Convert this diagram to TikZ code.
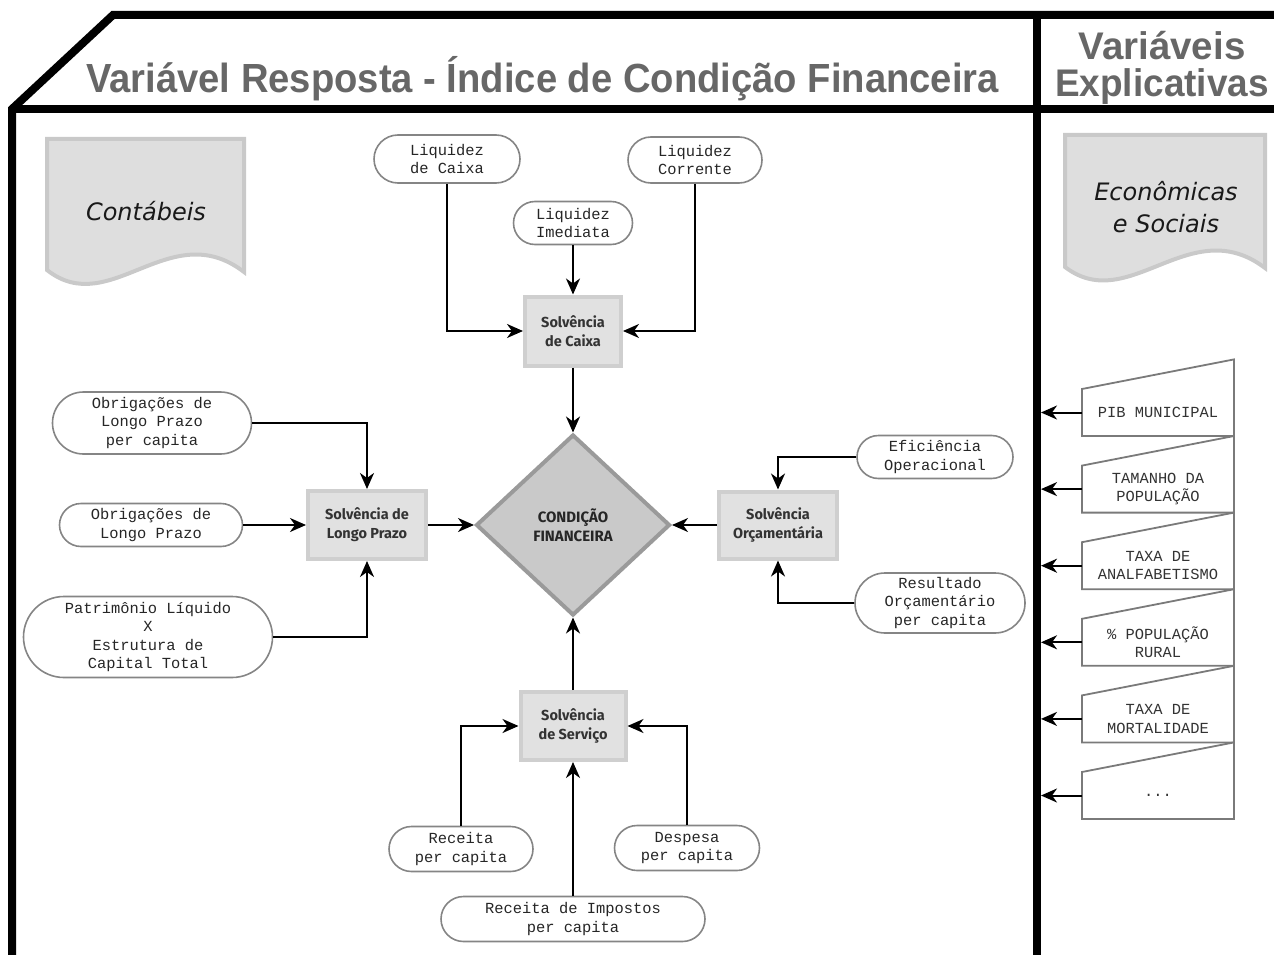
\documentclass[tikz,border=0pt]{standalone}
\usepackage{fontspec}
\usetikzlibrary{shapes.misc,shapes.geometric,arrows.meta}
\newfontfamily\titlef{Liberation Sans}
\newfontfamily\monof{Liberation Mono}
\newfontfamily\boxf{Fira Sans}
\newfontfamily\docf{DejaVu Sans}
\definecolor{titlegray}{HTML}{676767}
\definecolor{termgray}{HTML}{858585}
\definecolor{solvfill}{HTML}{E1E1E1}
\definecolor{solvborder}{HTML}{CFCFCF}
\definecolor{diafill}{HTML}{C9C9C9}
\definecolor{diaborder}{HTML}{9A9A9A}
\definecolor{docfill}{HTML}{DEDEDE}
\definecolor{docborder}{HTML}{C9C9C9}
\definecolor{maningray}{HTML}{7A7A7A}
\begin{document}
\begin{tikzpicture}[x=1pt,y=-1pt,
  arr/.style={draw=black, line width=2pt, -{Stealth[length=16pt,width=14pt,inset=5pt]}},
  term/.style={rounded rectangle, draw=termgray, line width=1.6pt, fill=white, inner sep=0pt, align=center,
    font=\monof\fontsize{15.4}{18.5}\selectfont, text=black!85},
  solv/.style={rectangle, draw=solvborder, fill=solvfill, line width=4pt, inner sep=0pt, align=center,
    font=\boxf\bfseries\fontsize{14.5}{19}\selectfont, text=black!80},
  cond/.style={diamond, draw=diaborder, fill=diafill, line width=4pt, inner sep=0pt, align=center,
    minimum width=194pt, minimum height=181pt, font=\boxf\bfseries\fontsize{15}{19}\selectfont, text=black!85},
  docshape/.style={draw=docborder, fill=docfill, line width=4pt},
  doctext/.style={font=\docf\itshape\fontsize{24}{32}\selectfont, align=center, text=black!90},
  manin/.style={draw=maningray, fill=white, line width=1.8pt, line join=miter},
  mantext/.style={font=\monof\fontsize{15.4}{18.5}\selectfont, align=center, text=black!80},
  frame/.style={line width=8pt, draw=black, line join=miter},
  ttl/.style={font=\titlef\bfseries\fontsize{40.7}{40.7}\selectfont, text=titlegray, inner sep=0pt, anchor=base},
  ttlr/.style={font=\titlef\bfseries\fontsize{38.5}{38.5}\selectfont, text=titlegray, inner sep=0pt, anchor=base}
]
\useasboundingbox (0,0) rectangle (1274,955);

% titles
\node[ttl] (title) at (542.5,93) {\scalebox{0.9385}[1]{Variável Resposta - Índice de Condição Financeira}};
\node[ttlr] (var) at (1162,60) {\scalebox{1.0}[1]{Variáveis}};
\node[ttlr] (expl) at (1162,97) {\scalebox{0.96}[1]{Explicativas}};

% document shapes
\draw[docshape] (47,270) -- (47,139) -- (244,139) -- (244,272)
  .. controls (170,215) and (110,320) .. (47,270) -- cycle;
\node[doctext] (cont) at (146,211) {Contábeis};
\draw[docshape] (1065,267) -- (1065,135) -- (1265,135) -- (1265,268)
  .. controls (1190,211) and (1129,316) .. (1065,267) -- cycle;
\node[doctext] (econ) at (1166,207) {Econômicas\\e Sociais};

% central nodes
\node[cond] (cf) at (573,525) {CONDIÇÃO\\FINANCEIRA};
\node[solv, minimum width=96pt, minimum height=69pt] (sc) at (573,331) {Solvência\\de Caixa};
\node[solv, minimum width=118pt, minimum height=68pt] (slp) at (367,525) {Solvência de\\Longo Prazo};
\node[solv, minimum width=118pt, minimum height=67pt] (so) at (778,525) {Solvência\\Orçamentária};
\node[solv, minimum width=105pt, minimum height=68pt] (ss) at (573,726) {Solvência\\de Serviço};

% terminal nodes
\node[term, minimum width=146pt, minimum height=48pt] (lc) at (447,159) {Liquidez\\de Caixa};
\node[term, minimum width=134pt, minimum height=46pt] (lco) at (695,160) {Liquidez\\Corrente};
\node[term, minimum width=119pt, minimum height=43pt] (li) at (573,223) {Liquidez\\Imediata};
\node[term, minimum width=199pt, minimum height=62pt] (olpc) at (152,423) {Obrigações de\\Longo Prazo\\per capita};
\node[term, minimum width=183pt, minimum height=43pt] (olp) at (151,525) {Obrigações de\\Longo Prazo};
\node[term, minimum width=249pt, minimum height=81pt] (pl) at (148,637) {Patrimônio Líquido\\X\\Estrutura de\\Capital Total};
\node[term, minimum width=156pt, minimum height=43pt] (ef) at (935,457) {Eficiência\\Operacional};
\node[term, minimum width=170pt, minimum height=60pt] (ro) at (940,603) {Resultado\\Orçamentário\\per capita};
\node[term, minimum width=144pt, minimum height=45pt] (rpc) at (461,849) {Receita\\per capita};
\node[term, minimum width=145pt, minimum height=45pt] (dpc) at (687,848) {Despesa\\per capita};
\node[term, minimum width=264pt, minimum height=45pt] (ri) at (573,919) {Receita de Impostos\\per capita};

% connectors
\draw[arr] (lc.south) |- (sc.west);
\draw[arr] (lco.south) |- (sc.east);
\draw[arr] (li.south) -- (sc.north);
\draw[arr] (sc.south) -- (cf.north);
\draw[arr] (olpc.east) -| (slp.north);
\draw[arr] (olp.east) -- (slp.west);
\draw[arr] (pl.east) -| (slp.south);
\draw[arr] (slp.east) -- (cf.west);
\draw[arr] (ef.west) -| (so.north);
\draw[arr] (ro.west) -| (so.south);
\draw[arr] (so.west) -- (cf.east);
\draw[arr] (ss.north) -- (cf.south);
\draw[arr] (rpc.north) |- (ss.west);
\draw[arr] (dpc.north) |- (ss.east);
\draw[arr] (ri.north) -- (ss.south);

% explanatory variables
\foreach \i/\t in {0/{PIB MUNICIPAL},1/{TAMANHO DA\\POPULAÇÃO},2/{TAXA DE\\ANALFABETISMO},3/{\% POPULAÇÃO\\RURAL},4/{TAXA DE\\MORTALIDADE},5/{...}}{
  \pgfmathsetmacro\bb{436+76.6*\i}
  \pgfmathsetmacro\tl{\bb-47}
  \pgfmathsetmacro\tr{\bb-76.6}
  \pgfmathsetmacro\mm{\bb-23.5}
  \draw[manin] (1082,\tl) -- (1234,\tr) -- (1234,\bb) -- (1082,\bb) -- cycle;
  \node[mantext] (v\i) at (1158,\mm) {\t};
  \coordinate (vl\i) at (1082,\mm);
  \coordinate (dv\i) at (1041,\mm);
  \draw[arr] (vl\i) -- (dv\i);
}

% frame
\draw[frame] (12,955) -- (12,109) -- (113,15) -- (1274,15);
\draw[frame] (12,109) -- (1274,109);
\draw[frame] (1037,15) -- (1037,955);
\end{tikzpicture}
\end{document}
